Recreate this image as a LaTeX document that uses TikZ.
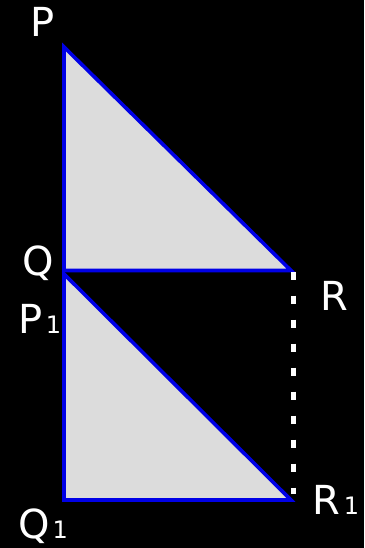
\documentclass[tikz,border=0pt]{standalone}
\usepackage{fontspec}
\setmainfont{DejaVu Sans}
\usetikzlibrary{arrows.meta}
\definecolor{trifill}{HTML}{DCDCDC}
\definecolor{triblue}{HTML}{0000E6}
\newcommand{\sublbl}[2]{#1\kern3pt{\fontsize{24}{28}\selectfont #2}}

\begin{document}
\begin{tikzpicture}[x=1pt,y=-1pt,
  tri/.style={draw=triblue,fill=trifill,line width=3.6pt,line join=miter},
  lab/.style={text=white,inner sep=0pt,anchor=base,font=\fontsize{40}{48}\selectfont}]
\fill[black] (0,0) rectangle (364,548);
\useasboundingbox (0,0) rectangle (364,548);
\coordinate (P) at (64,47);
\coordinate (Q) at (64,270.5);
\coordinate (R) at (291,270.5);
\coordinate (P1) at (64,274);
\coordinate (Q1) at (64,500);
\coordinate (R1) at (291,500);
\draw[tri] (P) -- (Q) -- (R) -- cycle;
\draw[tri] (P1) -- (Q1) -- (R1) -- cycle;
\draw[white,line width=5.5pt,dash pattern=on 8.5pt off 15.5pt] ([xshift=2.5pt,yshift=-1pt]R) -- ([xshift=2.5pt,yshift=6pt]R1);
\node[lab] (Plab) at (43,37) {P};
\node[lab] (Qlab) at (38,275) {Q};
\node[lab] (Rlab) at (334,310) {R};
\node[lab] (P1lab) at (40,333) {\sublbl{P}{1}};
\node[lab] (Q1lab) at (43,538) {\sublbl{Q}{1}};
\node[lab] (R1lab) at (336,514) {\sublbl{R}{1}};
\end{tikzpicture}
\end{document}
